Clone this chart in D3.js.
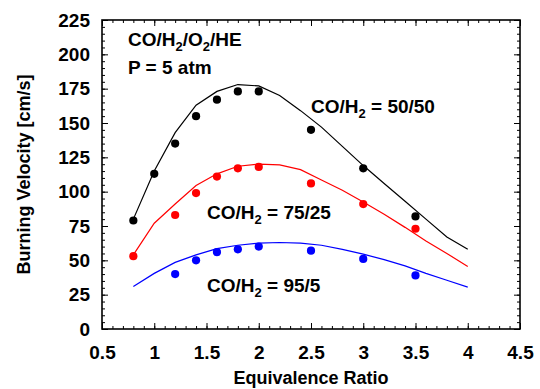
<!DOCTYPE html>
<html>
<head>
<meta charset="utf-8">
<script src="https://cdn.jsdelivr.net/npm/d3@7"></script>
<style>
  body { margin: 0; background: #fff; }
  svg { display: block; font-family: "Liberation Sans", Arial, sans-serif; font-weight: bold; }
</style>
</head>
<body>
<div id="root"></div>
<script>
// experimental points
const phi5050 = [0.8, 1.0, 1.2, 1.4, 1.6, 1.8, 2.0, 2.5, 3.0, 3.5];
const exp5050 = [79, 113, 135, 155, 167, 173, 173, 145, 117, 82];
const phi7525 = [0.8, 1.2, 1.4, 1.6, 1.8, 2.0, 2.5, 3.0, 3.5];
const exp7525 = [53, 83, 99, 111, 117, 118, 106, 91, 73];
const phi955 = [1.2, 1.4, 1.6, 1.8, 2.0, 2.5, 3.0, 3.5];
const exp955 = [40, 50, 56, 58, 60, 57, 51, 39];

// computed curves
const phiModel = [0.8, 1.0, 1.2, 1.4, 1.6, 1.8, 2.0, 2.2, 2.4, 2.6, 2.8, 3.0, 3.2, 3.4, 3.6, 3.8, 4.0];
const model5050 = [80, 115, 143, 163, 173, 178, 177, 170, 159, 147, 133, 119, 106, 93, 80, 67, 58];
const model7525 = [54, 77, 91, 104.5, 113, 118.5, 120, 119.5, 116, 108.5, 101, 92.5, 83.5, 74, 64, 55, 45.5];
const model955 = [31, 40.5, 48.5, 54, 58.5, 61, 62.5, 63, 62.5, 61, 58, 54.5, 50.5, 46, 40.5, 35.5, 30.5];

const xTicks = [0.5, 1, 1.5, 2, 2.5, 3, 3.5, 4, 4.5];
const yTicks = [0, 25, 50, 75, 100, 125, 150, 175, 200, 225];

const W = 540, H = 389;
const plotL = 102, plotR = 520, plotT = 20, plotB = 329;

const x = d3.scaleLinear().domain([0.5, 4.5]).range([plotL, plotR]);
const y = d3.scaleLinear().domain([0, 225]).range([plotB, plotT]);

const svg = d3.select("#root").append("svg").attr("width", W).attr("height", H);

const xMinor = d3.range(5, 46).map((d) => d / 10);
const yMinor = d3.range(0, 226, 5);

function styleAxis(g) {
  g.select(".domain").remove();
  g.selectAll("line").attr("stroke", "#000").attr("stroke-width", 1);
  g.selectAll("text").attr("fill", "#000").attr("font-size", "19px").attr("font-family", null);
}

// minor ticks on all sides
svg.append("g").attr("transform", `translate(0,${plotB})`)
  .call(d3.axisBottom(x).tickValues(xMinor).tickSize(-3).tickFormat("")).call(styleAxis);
svg.append("g").attr("transform", `translate(0,${plotT})`)
  .call(d3.axisTop(x).tickValues(xMinor).tickSize(-3).tickFormat("")).call(styleAxis);
svg.append("g").attr("transform", `translate(${plotL},0)`)
  .call(d3.axisLeft(y).tickValues(yMinor).tickSize(-3).tickFormat("")).call(styleAxis);
svg.append("g").attr("transform", `translate(${plotR},0)`)
  .call(d3.axisRight(y).tickValues(yMinor).tickSize(-3).tickFormat("")).call(styleAxis);

// major ticks + labels
svg.append("g").attr("transform", `translate(0,${plotB})`)
  .call(d3.axisBottom(x).tickValues(xTicks).tickSize(-6).tickPadding(17).tickFormat(d3.format("")))
  .call(styleAxis);
svg.append("g").attr("transform", `translate(0,${plotT})`)
  .call(d3.axisTop(x).tickValues(xTicks).tickSize(-6).tickFormat("")).call(styleAxis);
svg.append("g").attr("transform", `translate(${plotL},0)`)
  .call(d3.axisLeft(y).tickValues(yTicks).tickSize(-6).tickPadding(12))
  .call(styleAxis);
svg.append("g").attr("transform", `translate(${plotR},0)`)
  .call(d3.axisRight(y).tickValues(yTicks).tickSize(-6).tickFormat("")).call(styleAxis);

// frame
svg.append("rect")
  .attr("x", plotL).attr("y", plotT)
  .attr("width", plotR - plotL).attr("height", plotB - plotT)
  .attr("fill", "none").attr("stroke", "#000").attr("stroke-width", 1.6);

// axis titles
svg.append("text")
  .attr("x", (plotL + plotR) / 2).attr("y", 384)
  .attr("text-anchor", "middle").attr("font-size", "18px")
  .text("Equivalence Ratio");
svg.append("text")
  .attr("transform", `translate(30,${(plotT + plotB) / 2}) rotate(-90)`)
  .attr("text-anchor", "middle").attr("font-size", "18px")
  .text("Burning Velocity [cm/s]");

const series = [
  { color: "#000000", phi: phi5050, exp: exp5050, model: model5050 },
  { color: "#ff0000", phi: phi7525, exp: exp7525, model: model7525 },
  { color: "#0000ff", phi: phi955, exp: exp955, model: model955 },
];

const line = d3.line().x((d) => x(d[0])).y((d) => y(d[1]));

series.forEach((s) => {
  svg.append("path")
    .datum(phiModel.map((p, i) => [p, s.model[i]]))
    .attr("d", line)
    .attr("fill", "none")
    .attr("stroke", s.color)
    .attr("stroke-width", 1.2);

  svg.append("g")
    .selectAll("circle")
    .data(s.phi.map((p, i) => [p, s.exp[i]]))
    .enter()
    .append("circle")
    .attr("cx", (d) => x(d[0]))
    .attr("cy", (d) => y(d[1]))
    .attr("r", 4.1)
    .attr("fill", s.color);
});

// annotations
function label(xp, yp, parts) {
  const t = svg.append("text").attr("x", xp).attr("y", yp).attr("font-size", "19px");
  parts.forEach((p) => {
    if (p.sub) {
      t.append("tspan").attr("font-size", "13px").attr("dy", 5).text(p.text);
    } else {
      t.append("tspan").attr("dy", p.after ? -5 : 0).text(p.text);
    }
  });
}

label(128, 46, [
  { text: "CO/H" }, { text: "2", sub: true }, { text: "/O", after: true },
  { text: "2", sub: true }, { text: "/HE", after: true },
]);
label(128, 74, [{ text: "P = 5 atm" }]);
label(311, 113, [{ text: "CO/H" }, { text: "2", sub: true }, { text: " = 50/50", after: true }]);
label(207, 219, [{ text: "CO/H" }, { text: "2", sub: true }, { text: " = 75/25", after: true }]);
label(207, 292, [{ text: "CO/H" }, { text: "2", sub: true }, { text: " = 95/5", after: true }]);
</script>
</body>
</html>
